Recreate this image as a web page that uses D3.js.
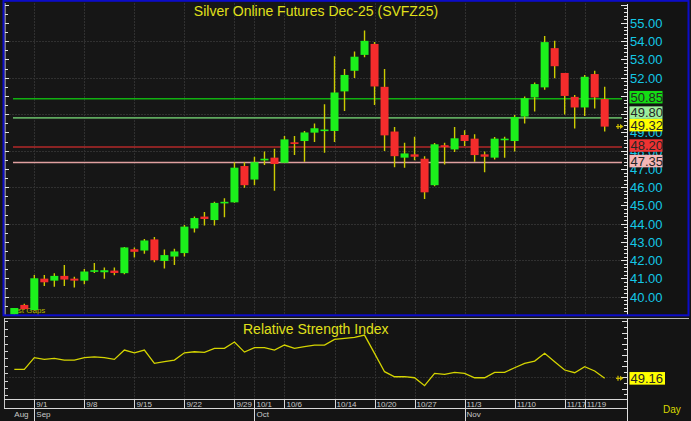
<!DOCTYPE html>
<html><head><meta charset="utf-8">
<script src="https://cdn.jsdelivr.net/npm/d3@7"></script>
<style>
html,body{margin:0;padding:0;background:#141414;}
svg{display:block;}
text{font-family:"Liberation Sans",Arial,sans-serif;}
</style></head><body>
<svg id="c" width="691" height="421"></svg>
<script>
const dates = ["8/28","8/29","9/1","9/2","9/3","9/4","9/5","9/8","9/9","9/10","9/11","9/12","9/15","9/16","9/17","9/18","9/19","9/22","9/23","9/24","9/25","9/26","9/29","9/30","10/1","10/2","10/3","10/6","10/7","10/8","10/9","10/10","10/14","10/15","10/16","10/17","10/20","10/21","10/22","10/23","10/27","10/28","10/29","10/30","10/31","11/3","11/4","11/5","11/6","11/7","11/10","11/11","11/12","11/13","11/14","11/17","11/18","11/19","11/20","11/21"];
const open  = [38.95,39.55,39.27,40.99,40.88,41.14,40.99,40.88,41.40,41.34,41.43,41.29,42.60,42.53,43.14,41.96,42.20,42.39,43.74,44.39,44.20,45.15,45.17,47.16,46.42,47.47,47.62,47.34,48.46,48.53,48.99,49.14,49.08,51.25,52.38,53.25,53.85,51.50,49.05,47.62,47.80,47.56,46.11,48.30,48.07,48.86,48.66,47.80,47.62,48.64,48.53,49.87,50.92,51.47,53.62,52.26,50.95,50.37,52.20,50.83];
const high  = [39.38,39.62,41.19,41.19,41.29,41.74,41.10,41.52,41.84,41.60,41.60,42.73,42.70,43.16,43.27,42.59,42.63,43.93,44.40,44.64,45.20,45.40,47.37,47.37,47.67,47.96,48.11,48.80,48.80,49.08,49.49,50.55,53.18,52.48,53.43,54.58,53.95,52.48,49.30,48.44,48.77,47.70,48.42,48.44,49.30,49.12,48.90,47.95,48.75,48.77,49.96,50.97,51.74,54.28,54.02,52.26,51.05,52.15,52.38,51.50];
const low   = [38.95,39.30,39.25,40.59,40.55,40.59,40.50,40.68,41.30,40.99,41.18,41.23,42.15,42.35,41.89,41.54,41.74,42.20,43.52,43.90,43.90,44.35,45.15,45.97,46.11,47.21,45.80,47.34,47.76,47.40,48.48,47.89,48.48,50.18,51.98,53.12,50.51,47.98,47.10,47.07,47.47,45.36,46.05,47.25,47.93,48.26,47.40,46.82,47.52,47.62,47.95,49.49,50.15,51.34,51.97,49.99,49.21,49.90,50.31,49.05];
const close = [39.38,39.32,41.01,40.79,41.14,40.94,40.88,41.38,41.45,41.45,41.30,42.70,42.46,43.08,42.00,42.28,42.48,43.84,44.31,44.26,45.14,45.20,47.07,46.11,47.37,47.56,47.27,48.62,48.37,49.00,49.23,49.16,51.19,52.15,53.15,54.02,51.52,48.84,47.70,47.85,47.67,45.72,48.35,48.20,48.68,48.53,47.76,47.67,48.66,48.66,49.85,50.88,51.65,53.95,52.63,51.00,50.37,52.05,50.92,49.32];
const rsi = [57.2,57.2,67.6,66.1,67.0,65.5,65.5,67.6,68.4,67.6,66.1,74.4,72.0,74.4,62.6,64.0,65.5,72.0,72.9,72.4,76.0,76.0,81.6,72.6,76.5,76.5,74.4,78.9,76.0,77.4,78.9,78.9,84.0,84.9,85.8,87.8,71.5,55.1,50.6,50.6,49.7,42.6,53.6,52.7,54.5,53.6,49.7,49.7,54.5,54.5,58.6,62.6,64.6,71.5,64.0,56.6,54.2,59.5,55.7,49.16];
const tickLabels = ["9/1","9/8","9/15","9/22","9/29","10/1","10/6","10/14","10/20","10/27","11/3","11/10","11/17","11/19"];
const monthLabels = ["Aug","Sep","Oct","Nov"];
const monthStarts = ["8/28","9/1","10/1","11/3"];
const priceTicks = d3.range(40, 56, 1);
const gridPrices = d3.range(40, 56, 2);
const levels = [50.85, 49.80, 48.20, 47.35];
const lastPrice = 49.32;
const lastRsi = 49.16;
const rsiTicks = d3.range(35, 101, 5);
const title = "Silver Online Futures Dec-25 (SVFZ25)";
const rsiTitle = "Relative Strength Index";

const levelStyle = {
  "50.85": {line:"#10b010", box:"#14dc14"},
  "49.8":  {line:"#5fa85f", box:"#9cee9c"},
  "48.2":  {line:"#b22828", box:"#ee3232"},
  "47.35": {line:"#e0a0a0", box:"#f6b6b6"}
};

const svg = d3.select("#c");
const idx = d3.range(dates.length);
const x = d3.scaleBand().domain(idx).range([8.3, 610.7]).padding(0.2);
const cx = i => x(i) + x.bandwidth()/2;
const y = d3.scaleLinear().domain([40, 55]).range([296.7, 22.95]);
const ry = d3.scaleLinear().domain([30, 100]).range([399.8, 321.4]);
const tickIdx = tickLabels.map(t => dates.indexOf(t));

svg.append("rect").attr("width",691).attr("height",421).attr("fill","#141414");

// ---------- price panel ----------
svg.append("rect").attr("x",5).attr("y",2).attr("width",622).attr("height",313).attr("fill","#161616");
svg.append("rect").attr("x",627).attr("y",2).attr("width",61).attr("height",313).attr("fill","#131313");

const grid = svg.append("g").attr("stroke","#303030").attr("stroke-width",1).attr("stroke-dasharray","2,1");
grid.selectAll("line.h").data(gridPrices).join("line")
  .attr("x1",6).attr("x2",627).attr("y1",d=>Math.round(y(d))+0.5).attr("y2",d=>Math.round(y(d))+0.5);
grid.selectAll("line.v").data(tickIdx).join("line")
  .attr("x1",d=>Math.round(cx(d))+0.5).attr("x2",d=>Math.round(cx(d))+0.5).attr("y1",3).attr("y2",315);

svg.append("text").attr("x",16).attr("y",313).attr("font-size",8).attr("fill","#b4b400").text("ist Gaps");

svg.append("g").selectAll("line").data(levels).join("line")
  .attr("x1",13).attr("x2",622).attr("y1",d=>y(d)).attr("y2",d=>y(d))
  .attr("stroke",d=>levelStyle[String(d)].line).attr("stroke-width",1.6);

svg.append("clipPath").attr("id","pc").append("rect").attr("x",5).attr("y",3).attr("width",622).attr("height",311.5);
const cg = svg.append("g").attr("clip-path","url(#pc)");
cg.selectAll("line.w").data(idx).join("line")
  .attr("x1",cx).attr("x2",cx).attr("y1",i=>y(high[i])).attr("y2",i=>y(low[i]))
  .attr("stroke","#cccc00").attr("stroke-width",1.4);
cg.selectAll("rect.b").data(idx).join("rect")
  .attr("x",i=>x(i)).attr("width",x.bandwidth())
  .attr("y",i=>y(Math.max(open[i],close[i])))
  .attr("height",i=>Math.max(1.6, Math.abs(y(open[i])-y(close[i]))))
  .attr("fill",i=>close[i]>=open[i] ? "#1cf01c" : "#f42c2c");

// right price axis
svg.append("line").attr("x1",627.5).attr("x2",627.5).attr("y1",4).attr("y2",315).attr("stroke","#e8e8e8");
const minor = d3.range(38.2, 56.01, 0.2).filter(v => y(v) > 4 && y(v) < 315);
svg.append("g").selectAll("line").data(minor).join("line")
  .attr("x1",d=>Math.abs(d-Math.round(d))<0.01 ? 621 : 624).attr("x2",627)
  .attr("y1",d=>Math.round(y(d))+0.5).attr("y2",d=>Math.round(y(d))+0.5)
  .attr("stroke","#e8e8e8");
svg.append("g").selectAll("text").data(priceTicks).join("text")
  .attr("x",630).attr("y",d=>y(d)+5).attr("font-size",13).attr("fill","#14c8e6")
  .text(d=>d.toFixed(2));

// left ruler
svg.append("line").attr("x1",5).attr("x2",5).attr("y1",3).attr("y2",315).attr("stroke","#e0e0e0");
const lr = d3.range(38.5, 56.01, 0.5).filter(v => y(v) > 4 && y(v) < 314);
svg.append("g").selectAll("line").data(lr).join("line")
  .attr("x1",5).attr("x2",d=>Number.isInteger(d)?9:8)
  .attr("y1",d=>Math.round(y(d))+0.5).attr("y2",d=>Math.round(y(d))+0.5)
  .attr("stroke","#e0e0e0");

// value boxes
const boxH = 12.5;
const boxes = levels.map(v=>({v, fill:levelStyle[String(v)].box}))
  .concat([{v:lastPrice, fill:"#ffff00"}])
  .map(b=>({...b, top:y(b.v)-1.5-boxH/2}))
  .sort((a,b)=>a.top-b.top);
for (let i=boxes.length-2;i>=0;i--) {
  if (boxes[i].top + boxH > boxes[i+1].top) boxes[i].top = boxes[i+1].top - boxH;
}
const bg = svg.append("g");
bg.selectAll("rect").data(boxes).join("rect")
  .attr("x",629.5).attr("y",d=>d.top).attr("width",33).attr("height",boxH).attr("fill",d=>d.fill);
bg.selectAll("text").data(boxes).join("text")
  .attr("x",630.5).attr("y",d=>d.top+boxH/2+4.7).attr("font-size",13).attr("fill","#262626")
  .text(d=>d.v.toFixed(2));

function arrow(g, yy){
  const a = g.append("g").attr("stroke","#d0c000").attr("fill","#d0c000").attr("stroke-width",1.2);
  a.append("line").attr("x1",616).attr("x2",621).attr("y1",yy).attr("y2",yy);
  a.append("line").attr("x1",618).attr("x2",618).attr("y1",yy-2.5).attr("y2",yy+2.5);
  a.append("path").attr("stroke","none").attr("d",`M620,${yy-2.5}L623.5,${yy}L620,${yy+2.5}Z`);
}
arrow(svg, y(lastPrice));

// blue frame
svg.append("rect").attr("x",3.5).attr("y",0.8).attr("width",685).attr("height",314.5)
  .attr("fill","none").attr("stroke","#0c0cc8").attr("stroke-width",2);

svg.append("text").attr("x",316).attr("y",16).attr("text-anchor","middle").attr("font-size",14)
  .attr("fill","#e0e01a").text(title);

// ---------- RSI panel ----------
svg.append("line").attr("x1",4).attr("x2",689).attr("y1",318.5).attr("y2",318.5).attr("stroke","#b8b8b8");
svg.append("line").attr("x1",4.5).attr("x2",4.5).attr("y1",318).attr("y2",408.5).attr("stroke","#c8c8c8");
const rg = svg.append("g").attr("stroke","#303030").attr("stroke-dasharray","2,1");
rg.selectAll("line").data(tickIdx).join("line")
  .attr("x1",d=>Math.round(cx(d))+0.5).attr("x2",d=>Math.round(cx(d))+0.5).attr("y1",320).attr("y2",399);
svg.append("line").attr("x1",6).attr("x2",627).attr("y1",Math.round(ry(50))+0.5).attr("y2",Math.round(ry(50))+0.5)
  .attr("stroke","#2c2c2c").attr("stroke-dasharray","2,1");

// left rsi ruler
const rl = d3.range(100, 30, -6.6);
svg.append("g").selectAll("line").data(rl).join("line")
  .attr("x1",5).attr("x2",8).attr("y1",d=>Math.round(ry(d))+0.5).attr("y2",d=>Math.round(ry(d))+0.5)
  .attr("stroke","#d0d0d0");

svg.append("text").attr("x",243).attr("y",334).attr("font-size",14).attr("fill","#e0e01a").text(rsiTitle);

svg.append("path").datum(idx)
  .attr("d", d3.line().x(cx).y(i=>ry(rsi[i])))
  .attr("fill","none").attr("stroke","#d4d400").attr("stroke-width",1.3);

// rsi right axis
svg.append("line").attr("x1",627.5).attr("x2",627.5).attr("y1",319).attr("y2",421).attr("stroke","#e0e0e0");
svg.append("g").selectAll("line").data(rsiTicks).join("line")
  .attr("x1",(d,i)=>i%2? 622:624).attr("x2",627)
  .attr("y1",d=>Math.round(ry(d))+0.5).attr("y2",d=>Math.round(ry(d))+0.5)
  .attr("stroke","#e0e0e0");
svg.append("rect").attr("x",629.5).attr("y",ry(lastRsi)-6.3).attr("width",35.5).attr("height",12.6).attr("fill","#ffff00");
svg.append("text").attr("x",630.5).attr("y",ry(lastRsi)+4.7).attr("font-size",13).attr("fill","#262626").text(lastRsi.toFixed(2));
arrow(svg, ry(lastRsi));

// date axis rows
svg.append("line").attr("x1",4).attr("x2",627.5).attr("y1",399.5).attr("y2",399.5).attr("stroke","#d8d8d8");
svg.append("line").attr("x1",4).attr("x2",627.5).attr("y1",408.5).attr("y2",408.5).attr("stroke","#d8d8d8");
const tg = svg.append("g");
tg.selectAll("line").data(tickIdx).join("line")
  .attr("x1",d=>Math.round(cx(d))+0.5).attr("x2",d=>Math.round(cx(d))+0.5).attr("y1",399).attr("y2",408.5)
  .attr("stroke","#d8d8d8");
tg.selectAll("text").data(tickLabels).join("text")
  .attr("x",(d,i)=>cx(tickIdx[i])+2).attr("y",407).attr("font-size",8).attr("fill","#c8c8c8").text(d=>d);
const mIdx = monthStarts.map(m=>dates.indexOf(m));
svg.append("g").selectAll("line").data(mIdx.slice(1)).join("line")
  .attr("x1",d=>Math.round(cx(d))+0.5).attr("x2",d=>Math.round(cx(d))+0.5).attr("y1",408).attr("y2",421)
  .attr("stroke","#d8d8d8");
svg.append("g").selectAll("text").data(monthLabels).join("text")
  .attr("x",(d,i)=> i===0 ? cx(mIdx[i]) : cx(mIdx[i])+2).attr("y",416.5).attr("font-size",8)
  .attr("fill","#c8c8c8").text(d=>d);

svg.append("text").attr("x",663).attr("y",413).attr("font-size",10).attr("fill","#d8d800").text("Day");
</script>
</body></html>
